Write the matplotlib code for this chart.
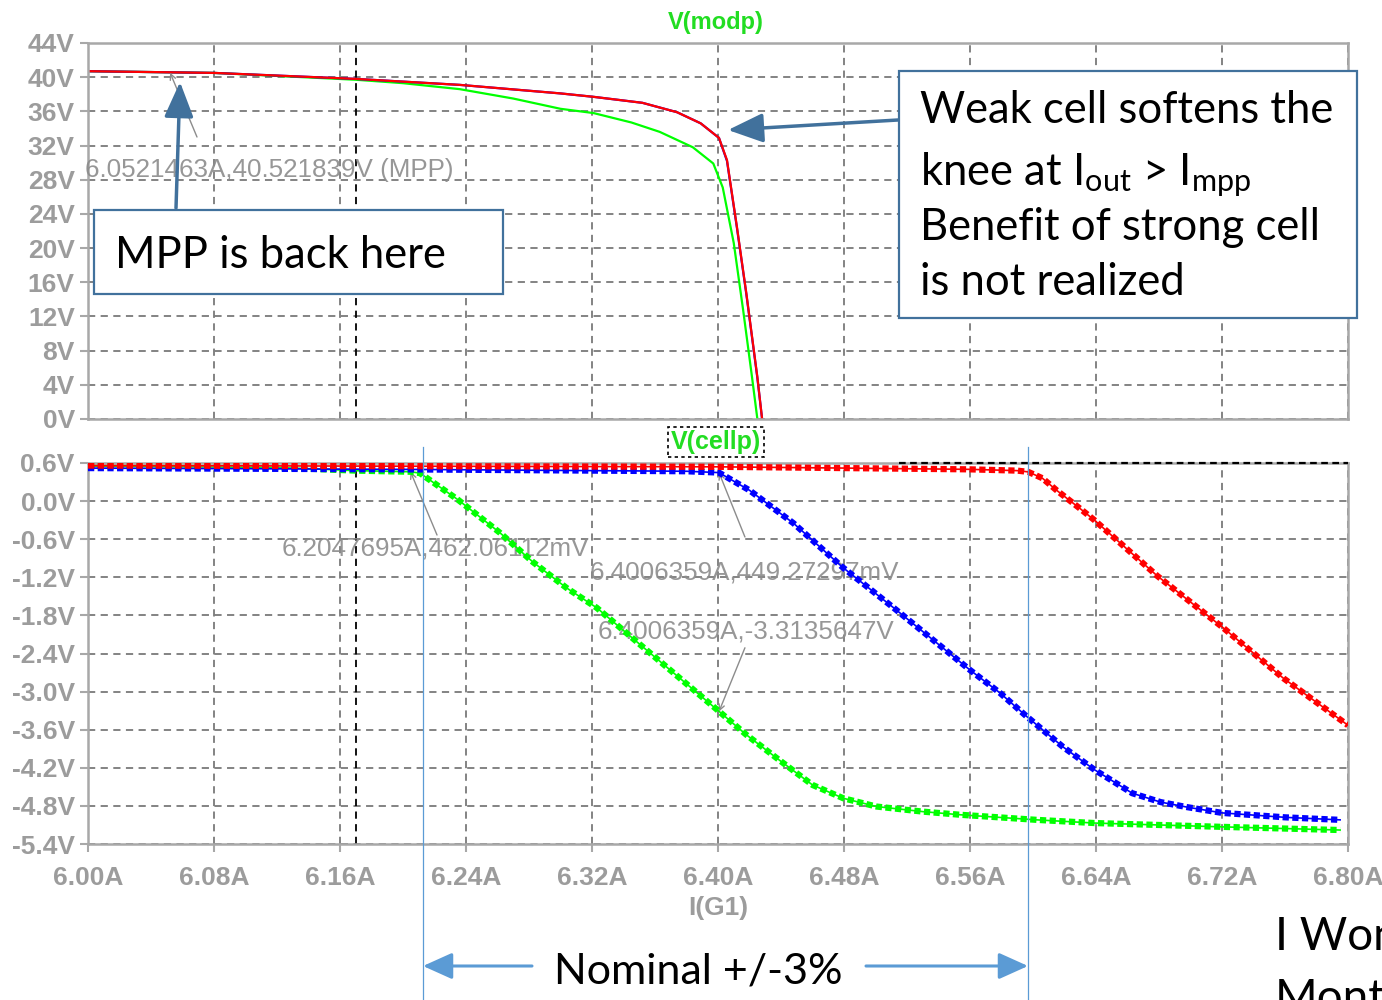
import matplotlib.pyplot as plt
from matplotlib.patches import Rectangle

# V(modp): module voltage vs load current I(G1)
modp_red_i = [6.00, 6.08, 6.17, 6.236, 6.30, 6.321, 6.352, 6.374, 6.389, 6.4006, 6.4057, 6.412, 6.418, 6.425, 6.428]
modp_red_v = [40.7, 40.5, 39.8, 39.1, 38.1, 37.7, 37.0, 35.9, 34.6, 32.9, 30.3, 22.5, 14.7, 4.9, 0.0]
modp_blue_i = [6.00, 6.08, 6.17, 6.236, 6.30, 6.321, 6.352, 6.374, 6.389, 6.4006, 6.4057, 6.412, 6.418, 6.425, 6.428]
modp_blue_v = [40.7, 40.5, 39.8, 39.1, 38.1, 37.7, 37.0, 35.9, 34.6, 32.9, 30.2, 22.4, 14.6, 4.8, 0.0]
modp_green_i = [6.00, 6.08, 6.17, 6.20, 6.236, 6.27, 6.30, 6.321, 6.345, 6.363, 6.384, 6.397, 6.403, 6.41, 6.416, 6.4216, 6.425]
modp_green_v = [40.7, 40.5, 39.7, 39.3, 38.6, 37.5, 36.3, 35.8, 34.7, 33.6, 31.8, 29.9, 27.1, 20.6, 12.7, 4.9, 0.0]

# V(cellp): voltage across the cell under test
cellp_red_i = [6.00, 6.20, 6.40, 6.56, 6.59, 6.597, 6.606, 6.615, 6.63, 6.639, 6.679, 6.72, 6.759, 6.80]
cellp_red_v = [0.56, 0.55, 0.54, 0.50, 0.48, 0.46, 0.36, 0.17, -0.12, -0.30, -1.18, -1.98, -2.79, -3.53]
cellp_blue_i = [6.00, 6.20, 6.38, 6.4006, 6.42, 6.448, 6.479, 6.511, 6.56, 6.579, 6.595, 6.619, 6.639, 6.663, 6.681, 6.698, 6.72, 6.76, 6.795]
cellp_blue_v = [0.52, 0.50, 0.47, 0.449, 0.17, -0.35, -1.04, -1.67, -2.66, -3.02, -3.37, -3.87, -4.23, -4.60, -4.74, -4.82, -4.91, -4.98, -5.02]
cellp_green_i = [6.00, 6.12, 6.17, 6.2048, 6.2108, 6.235, 6.2616, 6.2825, 6.304, 6.323, 6.352, 6.4006, 6.418, 6.439,
                 6.46, 6.4796, 6.5006, 6.53, 6.554, 6.6025, 6.639, 6.72, 6.795]
cellp_green_v = [0.55, 0.53, 0.48, 0.462, 0.44, 0.02, -0.50, -0.96, -1.37, -1.68, -2.29, -3.31, -3.68, -4.08,
                 -4.47, -4.68, -4.81, -4.89, -4.94, -5.02, -5.07, -5.13, -5.18]

x_ticks = [6.00, 6.08, 6.16, 6.24, 6.32, 6.40, 6.48, 6.56, 6.64, 6.72, 6.80]
x_labels = ['6.00A', '6.08A', '6.16A', '6.24A', '6.32A', '6.40A', '6.48A', '6.56A', '6.64A', '6.72A', '6.80A']
top_ticks = [0, 4, 8, 12, 16, 20, 24, 28, 32, 36, 40, 44]
top_labels = ['0V', '4V', '8V', '12V', '16V', '20V', '24V', '28V', '32V', '36V', '40V', '44V']
bot_ticks = [0.6, 0.0, -0.6, -1.2, -1.8, -2.4, -3.0, -3.6, -4.2, -4.8, -5.4]
bot_labels = ['0.6V', '0.0V', '-0.6V', '-1.2V', '-1.8V', '-2.4V', '-3.0V', '-3.6V', '-4.2V', '-4.8V', '-5.4V']

# cursor readouts
mpp = (6.0521463, 40.521839)
knee_weak = (6.2047695, 0.46206112)
knee_strong = (6.4006359, 0.44927297)
weak_at_nom = (6.4006359, -3.3135647)
nominal_lo, nominal_hi = 6.213, 6.597

W, H = 1382, 1000
def fx(px):
    return px / W
def fy(py):
    return 1 - py / H

plt.rcParams['font.family'] = ['Liberation Sans', 'DejaVu Sans']
plt.rcParams['mathtext.fontset'] = 'custom'
plt.rcParams['mathtext.rm'] = 'Lato'
plt.rcParams['mathtext.it'] = 'Lato'

GRAY = '#9c9c9c'
RED, BLUE, GREEN = '#ff0000', '#0000ff', '#00ff00'
CALLOUT = '#41719C'
LIGHTBLUE = '#5B9BD5'

fig = plt.figure(figsize=(13.82, 10), dpi=100)
ax1 = fig.add_axes([fx(88), fy(419), fx(1348) - fx(88), fy(43) - fy(419)])
ax2 = fig.add_axes([fx(88), fy(844), fx(1348) - fx(88), fy(463) - fy(844)])

for ax in (ax1, ax2):
    for s in ax.spines.values():
        s.set_color('#a8a8a8')
        s.set_linewidth(1.8)
    ax.grid(True, color='#7a7a7a', ls=(0, (4, 3)), lw=1.3)
    ax.set_xlim(6.0, 6.8)
    ax.tick_params(colors='#a8a8a8', labelcolor=GRAY, length=6, width=1.5, labelsize=19)
    ax.axvline(6.17, color='black', ls=(0, (4, 3)), lw=1.3)

ax1.set_ylim(0, 44)
ax1.set_yticks(top_ticks, top_labels, fontweight='bold')
ax1.set_xticks(x_ticks, [])
ax1.tick_params(axis='x', length=0)

ax2.set_ylim(-5.4, 0.6)
ax2.set_yticks(bot_ticks, bot_labels, fontweight='bold')
ax2.set_xticks(x_ticks, x_labels, fontweight='bold')
ax2.tick_params(axis='x', pad=10)
ax2.set_xlabel('I(G1)', color=GRAY, fontsize=19, fontweight='bold', labelpad=4)

# top panel curves
ax1.plot(modp_green_i, modp_green_v, color=GREEN, lw=1.6)
ax1.plot(modp_blue_i, modp_blue_v, color=BLUE, lw=1.6)
ax1.plot(modp_red_i, modp_red_v, color=RED, lw=1.6)

# bottom panel curves, square-ish markers along the line
ax2.hlines(0.6, 6.515, 6.80, color='black', ls=(0, (3, 2)), lw=1.6, clip_on=False, zorder=3)
for xs, ys, c in [(cellp_green_i, cellp_green_v, GREEN),
                  (cellp_blue_i, cellp_blue_v, BLUE),
                  (cellp_red_i, cellp_red_v, RED)]:
    ax2.plot(xs, ys, color=c, lw=1.2, zorder=4)
    ax2.plot(xs, ys, color=c, lw=4.5, ls=(0, (1, 0.55)), dash_capstyle='butt', zorder=4)

# trace names
fig.text(fx(716), fy(22), 'V(modp)', color='#22dd22', fontsize=17, fontweight='bold',
         ha='center', va='center')
fig.text(fx(716), fy(442), 'V(cellp)', color='#22dd22', fontsize=18, fontweight='bold',
         ha='center', va='center',
         bbox=dict(boxstyle='square,pad=0.12', fc='white', ec='black', ls=(0, (2, 2)), lw=1.2))

# cursor labels
ann = dict(color='#8c8c8c', fontsize=18.7, alpha=0.9, va='center', ha='left')
aprops = dict(arrowstyle='->', color='#8c8c8c', lw=1.0, shrinkA=0, shrinkB=0)
ax1.text(5.998, 29.1, f'{mpp[0]:.7f}A,{mpp[1]:.6f}V (MPP)', **ann)
ax1.annotate('', xy=mpp, xytext=(6.0692, 33.0), arrowprops=aprops)
ax2.text(6.123, -0.754, f'{knee_weak[0]:.7f}A,{knee_weak[1]*1000:.5f}mV', **ann)
ax2.annotate('', xy=knee_weak, xytext=(6.2216, -0.534), arrowprops=aprops)
ax2.text(6.3187, -1.117, f'{knee_strong[0]:.7f}A,{knee_strong[1]*1000:.5f}mV', **ann)
ax2.annotate('', xy=knee_strong, xytext=(6.4171, -0.565), arrowprops=aprops)
ax2.text(6.3238, -2.06, f'{weak_at_nom[0]:.7f}A,{weak_at_nom[1]:.7f}V', **ann)
ax2.annotate('', xy=weak_at_nom, xytext=(6.4171, -2.31), arrowprops=aprops)

# nominal current window
for xv in (nominal_lo, nominal_hi):
    ax2.axvline(xv, ymin=-0.41, ymax=1.042, color=LIGHTBLUE, lw=0.9, clip_on=False, zorder=5)

big = dict(family='Lato', color='black')
harrow = dict(arrowstyle='-|>,head_length=1.0,head_width=0.45', mutation_scale=18,
              color=LIGHTBLUE, lw=2.2, shrinkA=0, shrinkB=0)
fig.text(fx(698), fy(983), 'Nominal +/-3%', fontsize=31, ha='center', va='baseline', **big)
fig.add_artist(plt.Annotation('', xy=(fx(423), fy(966)), xytext=(fx(532), fy(966)),
                              xycoords='figure fraction', arrowprops=harrow))
fig.add_artist(plt.Annotation('', xy=(fx(1028), fy(966)), xytext=(fx(866), fy(966)),
                              xycoords='figure fraction', arrowprops=harrow))

# callout boxes
fig.add_artist(Rectangle((fx(94), fy(294)), fx(503) - fx(94), fy(210) - fy(294),
                         transform=fig.transFigure, fc='white', ec=CALLOUT, lw=1.6, zorder=6))
fig.text(fx(115), fy(268), 'MPP is back here', fontsize=31.4, va='baseline', zorder=7, **big)

fig.add_artist(Rectangle((fx(899), fy(318)), fx(1357) - fx(899), fy(71) - fy(318),
                         transform=fig.transFigure, fc='white', ec=CALLOUT, lw=1.6, zorder=6))
lines = ['Weak cell softens the',
         r'knee at I$_{\mathrm{out}}$ > I$_{\mathrm{mpp}}$',
         'Benefit of strong cell',
         'is not realized']
for txt, yb in zip(lines, [123, 185, 240, 295]):
    fig.text(fx(920), fy(yb), txt, fontsize=31.4, va='baseline', zorder=7, **big)

carrow = dict(arrowstyle='-|>,head_length=1.2,head_width=0.5', mutation_scale=18,
              color=CALLOUT, lw=2.5, shrinkA=0, shrinkB=0)
fig.add_artist(plt.Annotation('', xy=(fx(180), fy(82)), xytext=(fx(176), fy(208)),
                              xycoords='figure fraction', arrowprops=carrow, zorder=7))
fig.add_artist(plt.Annotation('', xy=(fx(728), fy(130)), xytext=(fx(898), fy(120)),
                              xycoords='figure fraction', arrowprops=carrow, zorder=7))

fig.text(fx(1275), fy(950), 'I Won', fontsize=33, va='baseline', **big)
fig.text(fx(1275), fy(1012), 'Mont', fontsize=33, va='baseline', **big)

fig.savefig('out.png', dpi=100)
